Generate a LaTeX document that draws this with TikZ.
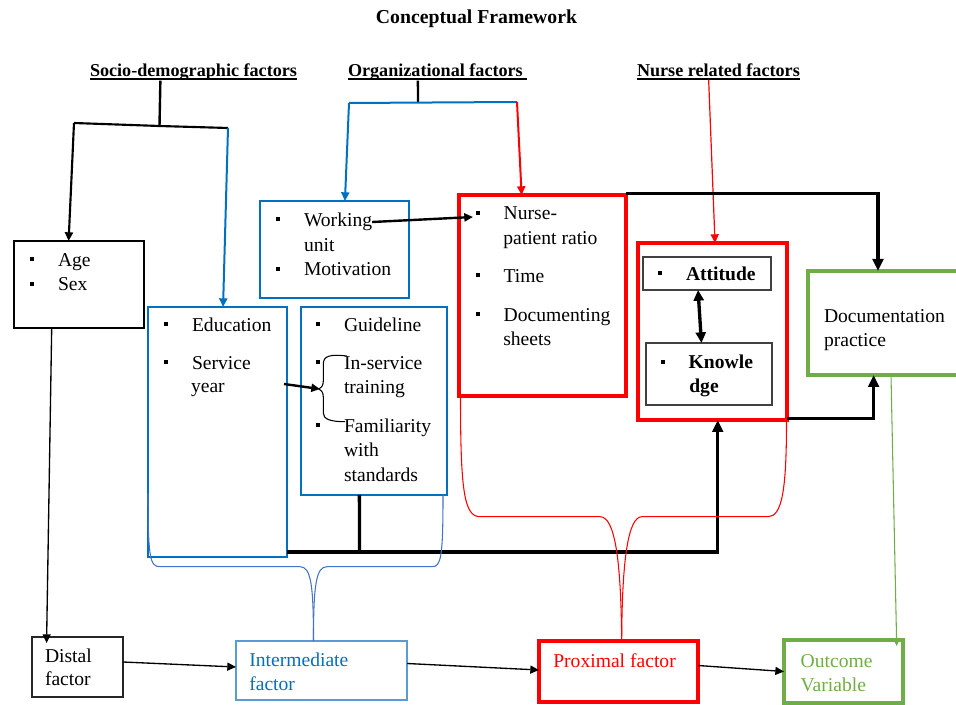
\documentclass[tikz,border=0pt]{standalone}
\usepackage{fontspec}
\setmainfont{Liberation Serif}
\usetikzlibrary{arrows.meta,calc,fit}
\definecolor{mblue}{HTML}{0070C0}
\definecolor{lblue}{HTML}{5B9BD5}
\definecolor{bblue}{HTML}{4472C4}
\definecolor{mred}{HTML}{FF0000}
\definecolor{mgreen}{HTML}{70AD47}
\definecolor{dgray}{HTML}{404040}
\newcommand{\itsz}{\fontsize{14.7}{18}\selectfont}
\newcommand{\hdsz}{\fontsize{13.6}{16}\selectfont\bfseries}
\newcommand{\ttsz}{\fontsize{14.8}{18}\selectfont\bfseries}
\newcommand{\itm}[1]{\makebox[21pt][l]{\rule[4pt]{3pt}{3pt}}#1}
\newcommand{\myul}[1]{\setbox0\hbox{#1}\rlap{\rule[-2.2pt]{\wd0}{0.9pt}}\box0}
\begin{document}
\begin{tikzpicture}[x=0.75pt,y=-0.75pt,
 every node/.style={inner sep=0pt, outer sep=0pt},
 txt/.style={anchor=base west, font=\itsz},
 hdr/.style={anchor=base west, font=\hdsz},
 blackbox/.style={draw=black, line width=2.2pt},
 bluebox/.style={draw=mblue, line width=2pt},
 redbox/.style={draw=mred, line width=3pt},
 greenbox/.style={draw=mgreen, line width=3.6pt},
 innerbox/.style={draw=dgray, line width=0.8pt},
 thinbox/.style={draw=black!85, line width=1pt},
 interbox/.style={draw=lblue, line width=2.2pt},
 heavy/.style={line width=2.5pt, line join=miter},
 bigtip/.style={-{Triangle[length=9pt,width=8pt]}},
 arrtip/.style={-{Triangle[length=6.5pt,width=6pt]}},
 smalltip/.style={-{Triangle[length=5pt,width=4.5pt]}},
 bracel/.style={line width=0.8pt},
]
\clip (0,0) rectangle (956,705);

% title and headers
\node[anchor=base, font=\ttsz] (title) at (476.5,24) {Conceptual Framework};
\node[hdr] (socio) at (90,76.7) {\myul{Socio-demographic factors}};
\node[hdr] (org) at (348,76.7) {\myul{Organizational factors\ }};
\node[hdr] (nrs) at (637,76.7) {\myul{Nurse related factors}};

% boxes
\node[blackbox, fit={(14,241)(144,328)}] (age) {};
\node[bluebox, fit={(260,201)(409,298)}] (work) {};
\node[bluebox, fit={(148,307)(287,557)}] (edu) {};
\node[bluebox, fit={(301,307)(447,495)}] (guide) {};
\node[redbox, fit={(459,195)(626,396)}] (nurse) {};
\node[redbox, fit={(638,243)(787,420)}] (attk) {};
\node[innerbox, fit={(643,257)(771,290)}] (att) {};
\node[innerbox, fit={(646,343)(772,405)}] (know) {};
\node[greenbox, fit={(808,271)(972,375)}] (doc) {};
\node[thinbox, fit={(32,637)(123,697)}] (distal) {};
\node[interbox, fit={(236,641)(407,700)}] (inter) {};
\node[redbox, fit={(539,641)(698,702)}] (prox) {};
\node[greenbox, line width=3.4pt, fit={(784,640)(903,703)}] (outc) {};

% texts
\node[txt] (tAge) at (30,266.7) {\itm{Age}};
\node[txt] (tSex) at (30,291) {\itm{Sex}};
\node[txt] (tWork) at (276,226.7) {\itm{Working}};
\node[txt] (tUnit) at (304,251.7) {unit};
\node[txt] (tMot) at (276,276) {\itm{Motivation}};
\node[txt] (tEdu) at (164,331.7) {\itm{Education}};
\node[txt] (tServ) at (164,369.3) {\itm{Service}};
\node[txt] (tYear) at (191,393) {year};
\node[txt] (tGuide) at (316,331.7) {\itm{Guideline}};
\node[txt] (tIns) at (316,369.3) {\itm{In-service}};
\node[txt] (tTrain) at (344,394) {training};
\node[txt] (tFam) at (316,432) {\itm{Familiarity}};
\node[txt] (tWith) at (344,456.7) {with};
\node[txt] (tStd) at (344,481) {standards};
\node[txt] (tNur) at (475.7,220) {\itm{Nurse-}};
\node[txt] (tRatio) at (503.3,245) {patient ratio};
\node[txt] (tTime) at (475.7,282.7) {\itm{Time}};
\node[txt] (tDoc) at (475.7,321.7) {\itm{Documenting}};
\node[txt] (tSheet) at (503.3,345.7) {sheets};
\node[txt, font=\itsz\bfseries] (tAtt) at (658,280.7) {\itm{Attitude}};
\node[txt, font=\itsz\bfseries] (tKnow) at (660.7,369) {\itm{Knowle}};
\node[txt, font=\itsz\bfseries] (tDge) at (689.3,392.7) {dge};
\node[txt] (tDp1) at (824,322.7) {Documentation};
\node[txt] (tDp2) at (824,346.7) {practice};
\node[txt] (tDis1) at (45,662.3) {Distal};
\node[txt] (tDis2) at (45,685.7) {factor};
\node[txt, text=mblue] (tInt1) at (249.3,666.7) {Intermediate};
\node[txt, text=mblue] (tInt2) at (249.3,690.7) {factor};
\node[txt, text=mred] (tProx) at (553.3,667.7) {Proximal factor};
\node[txt, text=mgreen] (tOut1) at (800.7,667.7) {Outcome};
\node[txt, text=mgreen] (tOut2) at (800.7,691.7) {Variable};

% socio-demographic connectors
\coordinate (sj) at (159.5,126);
\coordinate (sL) at (74,123);
\coordinate (sR) at (228,128);
\draw[line width=1.8pt] ($(socio.south west)!0.34!(socio.south east)$) -- (sj);
\draw[line width=1.6pt] (sL) -- (sj) -- (sR);
\draw[line width=1.6pt, arrtip] (sL) -- ($(age.north west)!0.42!(age.north east)$);
\draw[mblue, line width=1.5pt, arrtip] (sR) -- ($(edu.north west)!0.54!(edu.north east)$);

% organizational connectors
\coordinate (oj) at (418,102);
\coordinate (oL) at (349,103);
\coordinate (oR) at (517,102);
\draw[line width=1.8pt] ($(org.south west)!0.39!(org.south east)$) -- (oj);
\draw[mblue, line width=1.5pt] (oL) -- (oR);
\draw[mblue, line width=1.5pt, arrtip] (oL) -- ($(work.north west)!0.57!(work.north east)$);
\draw[mred, line width=1.5pt, arrtip] (oR) -- ($(nurse.north west)!0.375!(nurse.north east)$);

% nurse related
\draw[mred, line width=0.9pt, arrtip] ($(nrs.south west)!0.44!(nrs.south east)$) -- ($(attk.north west)!0.517!(attk.north east)$);

% heavy black connectors
\draw[heavy, bigtip] ([yshift=1pt]nurse.north east) -| ($(doc.north west)!0.427!(doc.north east)$);
\draw[heavy, bigtip] ([yshift=1pt]attk.south east) -| ($(doc.south west)!0.40!(doc.south east)$);
\draw[heavy, bigtip] ([yshift=3.75pt]edu.south east) -| ($(attk.south west)!0.535!(attk.south east)$);
\coordinate (jl) at (359.5,551.7);
\draw[heavy] ($(guide.south west)!0.40!(guide.south east)$) -- (jl);

% inner arrows
\coordinate (brtip) at (320,389);
\draw[line width=1.8pt, arrtip] (tWork.east) -- ($(nurse.north west)+(14,22)$);
\draw[line width=1.8pt, arrtip] ($(edu.north east)+(-3,77)$) -- (brtip);
\draw[line width=2.5pt, {Triangle[length=8pt,width=7.5pt]}-{Triangle[length=8pt,width=7.5pt]}] ($(att.south west)!0.43!(att.south east)$) -- ($(know.north west)!0.44!(know.north east)$);

% small brace in guideline box
\draw[bracel] (346.7,356) .. controls (330,354) and (323.3,356) .. (323.3,364) -- (323.3,381) .. controls (323.3,386) and (321,388) .. (319,389) .. controls (321,390) and (323.3,392) .. (323.3,397) -- (323.3,413) .. controls (323.3,419) and (330,421.7) .. (345,421.7);

% bottom row connectors
\draw[line width=1pt, arrtip] ($(age.south west)!0.29!(age.south east)$) -- ($(distal.north west)!0.16!(distal.north east)+(0,6)$);
\draw[line width=1pt, arrtip] ($(distal.east)+(0,-5)$) -- ($(inter.west)+(0,-3.5)$);
\draw[line width=1pt, arrtip] ($(inter.east)+(0,-7)$) -- ($(prox.west)+(0,-1.5)$);
\draw[line width=1pt, arrtip] ($(prox.east)+(0,-6)$) -- (outc.west);
\draw[mgreen, line width=0.8pt, smalltip] ($(doc.south west)!0.506!(doc.south east)$) -- ($(outc.north west)!0.947!(outc.north east)+(0,6)$);

% big braces
\draw[bblue, bracel] (148,493) .. controls (148,558) and (150,566.7) .. (160,566.7) -- (300,566.7) .. controls (311,566.7) and (313.5,585) .. ($(inter.north west)!0.453!(inter.north east)$);
\draw[bblue, bracel] ($(inter.north west)!0.453!(inter.north east)$) .. controls (313.5,585) and (316,566.7) .. (327,566.7) -- (432,566.7) .. controls (441,566.7) and (443,558) .. (443,495);
\draw[mred, bracel] (460.5,397) .. controls (460.5,490) and (464,516.7) .. (480,516.7) -- (600,516.7) .. controls (615,516.7) and (621,560) .. ($(prox.north west)!0.52!(prox.north east)$);
\draw[mred, bracel] ($(prox.north west)!0.52!(prox.north east)$) .. controls (622,560) and (628,516.7) .. (642,516.7) -- (768,516.7) .. controls (782,516.7) and (786.5,490) .. (786.5,421);
\end{tikzpicture}
\end{document}
